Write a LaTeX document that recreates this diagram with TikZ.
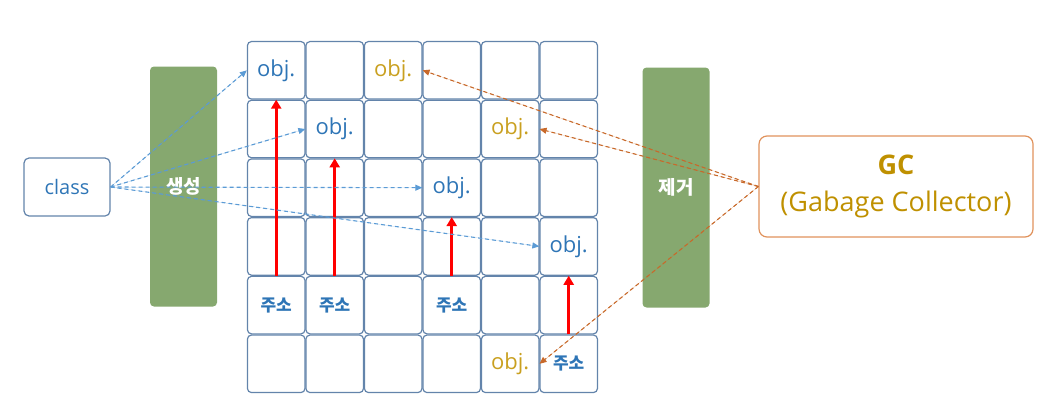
\documentclass[tikz,border=0pt]{standalone}
\usepackage{fontspec}
\setmainfont{Open Sans}
\newfontfamily\krfont{Noto Sans CJK KR}
\usepackage{tikz}
\usetikzlibrary{arrows.meta, positioning}

\definecolor{cellblue}{HTML}{6384AB}
\definecolor{txtblue}{HTML}{2E75B6}
\definecolor{genblue}{HTML}{5B9BD5}
\definecolor{objgold}{HTML}{C9A020}
\definecolor{gcgold}{HTML}{BF9000}
\definecolor{gcline}{HTML}{E0925C}
\definecolor{delorange}{HTML}{C8692A}
\definecolor{bargreen}{HTML}{86A86F}

\begin{document}
\begin{tikzpicture}[x=1pt, y=-1pt,
  cell/.style={draw=cellblue, line width=1.2pt, rounded corners=4pt, minimum width=57.5pt, minimum height=57.5pt, inner sep=0pt},
  bar/.style={fill=bargreen, rounded corners=4pt, minimum width=67pt, minimum height=240pt, text=white, font=\krfont\bfseries\fontsize{19}{22}\selectfont},
  objb/.style={text=txtblue, font=\fontsize{22}{26}\selectfont},
  objg/.style={text=objgold, font=\fontsize{22}{26}\selectfont},
  addr/.style={text=txtblue, font=\krfont\bfseries\fontsize{17}{20}\selectfont},
  gen/.style={-{Triangle[length=7pt,width=6pt]}, dash pattern=on 4pt off 3pt, draw=genblue, fill=genblue, line width=1.1pt},
  del/.style={-{Triangle[length=7pt,width=6pt]}, dash pattern=on 4pt off 3pt, draw=delorange, fill=delorange, line width=1.1pt},
  ptr/.style={-{Triangle[length=9pt,width=10pt]}, line width=3pt, draw=red, fill=red}
]
\useasboundingbox (0,0) rectangle (1059,412);

% Memory grid
\foreach \i in {0,...,5}
  \foreach \j in {0,...,5}
    \node[cell] (c\i\j) at ({276.2+58.5*\i},{70.3+58.7*\j}) {};

% Objects and addresses
\node[objb] (o00) at (c00) {obj.};
\node[objg] (o20) at (c20) {obj.};
\node[objb] (o11) at (c11) {obj.};
\node[objg] (o41) at (c41) {obj.};
\node[objb] (o32) at (c32) {obj.};
\node[objb] (o53) at (c53) {obj.};
\node[objg] (o45) at (c45) {obj.};
\node[addr] (a04) at (c04) {주소};
\node[addr] (a14) at (c14) {주소};
\node[addr] (a34) at (c34) {주소};
\node[addr] (a55) at (c55) {주소};

% Class and GC
\node[draw=cellblue, line width=1.2pt, rounded corners=5pt, minimum width=86pt, minimum height=58pt, text=txtblue, font=\fontsize{20}{24}\selectfont] (cls) at (67,187) {class};
\node[draw=gcline, line width=1.2pt, rounded corners=8pt, minimum width=274pt, minimum height=101pt, text=gcgold, align=center, font=\fontsize{27}{37}\selectfont] (gc) at (896,186.5) {{\bfseries GC}\\(Gabage Collector)};

% Bars
\node[bar] (mk) at (183.5,186.5) {생성};
\node[bar] (rm) at (676,187.5) {제거};

% References
\draw[ptr] (c04.north) -- (c00.south);
\draw[ptr] (c14.north) -- (c11.south);
\draw[ptr] (c34.north) -- (c32.south);
\draw[ptr] (c55.north) -- (c53.south);

% Creation
\draw[gen] (cls.east) -- (c00.west);
\draw[gen] (cls.east) -- (c11.west);
\draw[gen] (cls.east) -- (c32.west);
\draw[gen] (cls.east) -- (c53.west);

% Removal
\draw[del] (gc.west) -- (c20.east);
\draw[del] (gc.west) -- (c41.east);
\draw[del] (gc.west) -- (c45.east);
\end{tikzpicture}
\end{document}
